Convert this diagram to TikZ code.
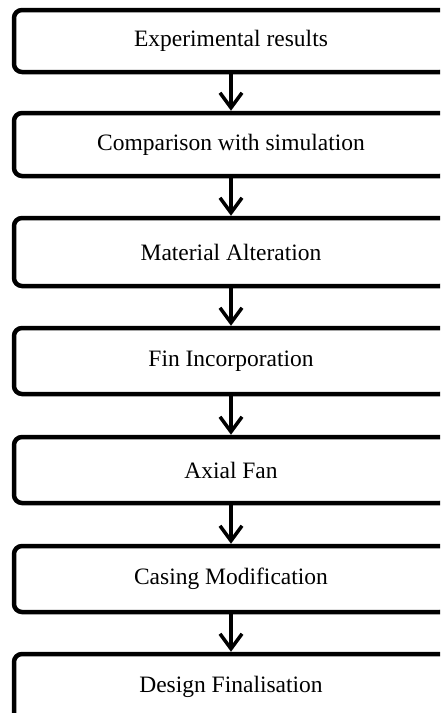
\documentclass[tikz,border=0pt]{standalone}
\usepackage{fontspec}
\setmainfont{Liberation Serif}
\usetikzlibrary{arrows.meta}
\begin{document}
\begin{tikzpicture}[x=1pt,y=-1pt,
  stepbox/.style={draw=black, line width=4.5pt, rounded corners=8pt, minimum width=434pt, inner sep=0pt,
    font=\fontsize{23.5}{28}\selectfont},
  flow/.style={line width=3.5pt, -{Straight Barb[length=15pt,width=22pt,line width=3.5pt]}}]
\useasboundingbox (0,0) rectangle (440,713);
\clip (0,0) rectangle (440,713);
\node[stepbox, minimum height=62pt] (n1) at (231,41) {Experimental results};
\node[stepbox, minimum height=63pt] (n2) at (231,144.5) {Comparison with simulation};
\node[stepbox, minimum height=68pt] (n3) at (231,252) {Material Alteration};
\node[stepbox, minimum height=66pt] (n4) at (231,361) {Fin Incorporation};
\node[stepbox, minimum height=66pt] (n5) at (231,470) {Axial Fan};
\node[stepbox, minimum height=66pt] (n6) at (231,579) {Casing Modification};
\node[stepbox, minimum height=66pt] (n7) at (231,687) {Design Finalisation};
\draw[flow] (n1.south) -- (n2.north);
\draw[flow] (n2.south) -- (n3.north);
\draw[flow] (n3.south) -- (n4.north);
\draw[flow] (n4.south) -- (n5.north);
\draw[flow] (n5.south) -- (n6.north);
\draw[flow] (n6.south) -- (n7.north);
\end{tikzpicture}
\end{document}
